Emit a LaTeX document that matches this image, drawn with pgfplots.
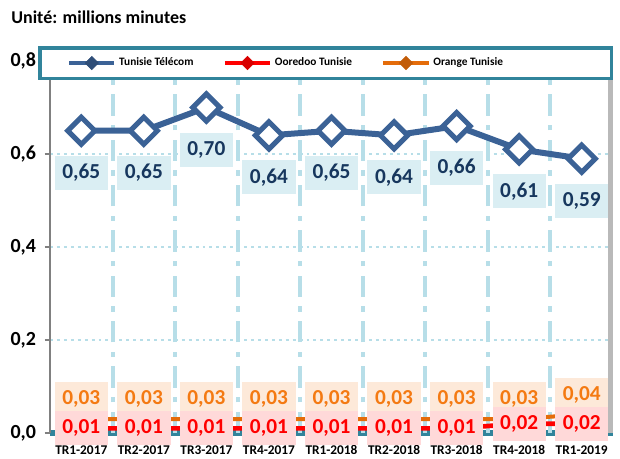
\documentclass[border=0pt]{standalone}
\usepackage{fontspec}
\setmainfont{Carlito}
\usepackage{pgfplots}
\usepackage{pgfplotstable}
\pgfplotsset{compat=1.18}

\definecolor{tt}{HTML}{3B6296}
\definecolor{ttdark}{HTML}{17375E}
\definecolor{ttfill}{HTML}{DAEEF3}
\definecolor{oored}{HTML}{FF0000}
\definecolor{oofill}{HTML}{FFD9D9}
\definecolor{orng}{HTML}{E46C0A}
\definecolor{orngtext}{HTML}{F47A12}
\definecolor{orfill}{HTML}{FDE9D9}
\definecolor{tealb}{HTML}{31849B}
\definecolor{gridb}{HTML}{B7DEE8}

% x  Tunisie Telecom  Ooredoo  Orange
\pgfplotstableread{
x tt   oo   or
0 0.65 0.01 0.03
1 0.65 0.01 0.03
2 0.70 0.01 0.03
3 0.64 0.01 0.03
4 0.65 0.01 0.03
5 0.64 0.01 0.03
6 0.66 0.01 0.03
7 0.61 0.02 0.03
8 0.59 0.02 0.04
}\data

\newcommand{\lbl}{\pgfmathprintnumber[fixed,fixed zerofill,precision=2,use comma,assume math mode=true]{\pgfplotspointmeta}}

\begin{document}
\begin{tikzpicture}
\useasboundingbox (0,0) rectangle (465pt,344.25pt);
\node[anchor=west, font=\bfseries\fontsize{13.5}{14}\selectfont] at (5pt,331.5pt) {Unité: millions minutes};

\begin{axis}[
    at={(37.5pt,19.5pt)}, anchor=south west,
    scale only axis, width=422.25pt, height=279pt,
    xmin=-0.5, xmax=8.5, ymin=0, ymax=0.8,
    clip=false,
    axis x line*=bottom, axis y line*=left,
    x axis line style={tealb, line width=3.8pt, -},
    y axis line style={gray, line width=1.2pt, -},
    xtick={0,...,8},
    xticklabels={TR1-2017,TR2-2017,TR3-2017,TR4-2017,TR1-2018,TR2-2018,TR3-2018,TR4-2018,TR1-2019},
    xtick style={draw=none},
    xticklabel style={font=\bfseries\fontsize{10}{10}\selectfont, yshift=-2pt},
    ytick={0,0.2,0.4,0.6,0.8},
    ytick style={gray, line width=0.8pt},
    tick align=outside, major tick length=4pt,
    yticklabel style={font=\bfseries\fontsize{15}{15}\selectfont, xshift=-3pt,
        /pgf/number format/.cd, fixed, fixed zerofill, precision=1, use comma, assume math mode=true},
    ymajorgrids=true,
    major grid style={gridb, line width=2.2pt, dash pattern=on 2.2pt off 3pt},
    extra x ticks={0.5,1.5,...,7.5},
    extra x tick labels={},
    extra x tick style={grid=major, major tick length=0pt,
        major grid style={gridb, line width=3pt, dash pattern=on 16pt off 7pt on 4pt off 7pt}},
    legend columns=3,
    legend style={draw=none, fill=none, at={(rel axis cs:0.03,0.9946)}, anchor=west,
        font=\bfseries\fontsize{8.5}{10}\selectfont, inner sep=0pt,
        /tikz/every even column/.append style={column sep=20pt}},
    legend image code/.code={\draw[#1, mark repeat=2, mark phase=2] plot coordinates {(0pt,0pt)(17pt,0pt)(34pt,0pt)};},
]

% Tunisie Telecom
\addplot[tt, line width=4.5pt, mark=square*, mark size=7.2pt,
    mark options={rotate=45, draw=tt, fill=white, line width=3.8pt, solid},
    nodes near coords=\lbl,
    every node near coord/.append style={anchor=center, yshift=-31.5pt, fill=ttfill, text=ttdark,
        font=\bfseries\fontsize{16}{16}\selectfont, minimum width=40pt, minimum height=25.5pt, inner sep=0pt},
    forget plot] table[x=x, y=tt] {\data};

% Orange Tunisie
\addplot[orng, line width=3pt, mark=square*, mark size=2.5pt, mark options={rotate=45, solid},
    nodes near coords=\lbl,
    every node near coord/.append style={anchor=south, yshift=0.5pt, fill=orfill, text=orngtext,
        font=\bfseries\fontsize{16}{16}\selectfont, minimum width=40pt, minimum height=25.5pt, inner sep=0pt},
    forget plot] table[x=x, y=or] {\data};

% Ooredoo Tunisie
\addplot[oored, line width=3.5pt, mark=square*, mark size=2.5pt, mark options={rotate=45, solid},
    forget plot] table[x=x, y=oo] {\data};
\addplot[draw=none, nodes near coords=\lbl,
    every node near coord/.append style={anchor=center, fill=oofill, text=oored,
        font=\bfseries\fontsize{16}{16}\selectfont, minimum width=40pt, minimum height=25.5pt, inner sep=0pt},
    forget plot] table[x=x, y=oo] {\data};

% right wall and legend frame
\draw[gray!55, line width=4pt] (rel axis cs:0.996,0) -- (rel axis cs:0.996,0.95);
\draw[tealb, line width=2.4pt, fill=white] (rel axis cs:-0.0178,0.954) rectangle (rel axis cs:0.998,1.035);

\addlegendimage{tt, line width=3pt, mark=square*, mark size=3.5pt, mark options={rotate=45, fill=tt!80!black, draw=tt!80!black, line width=0.5pt}}
\addlegendentry{Tunisie Télécom}
\addlegendimage{oored, line width=3pt, mark=square*, mark size=3.5pt, mark options={rotate=45, fill=oored!85!black, draw=oored!85!black, line width=0.5pt}}
\addlegendentry{Ooredoo Tunisie}
\addlegendimage{orng, line width=3pt, mark=square*, mark size=3.5pt, mark options={rotate=45, fill=orng!85!black, draw=orng!85!black, line width=0.5pt}}
\addlegendentry{Orange Tunisie}
\end{axis}
\end{tikzpicture}
\end{document}
